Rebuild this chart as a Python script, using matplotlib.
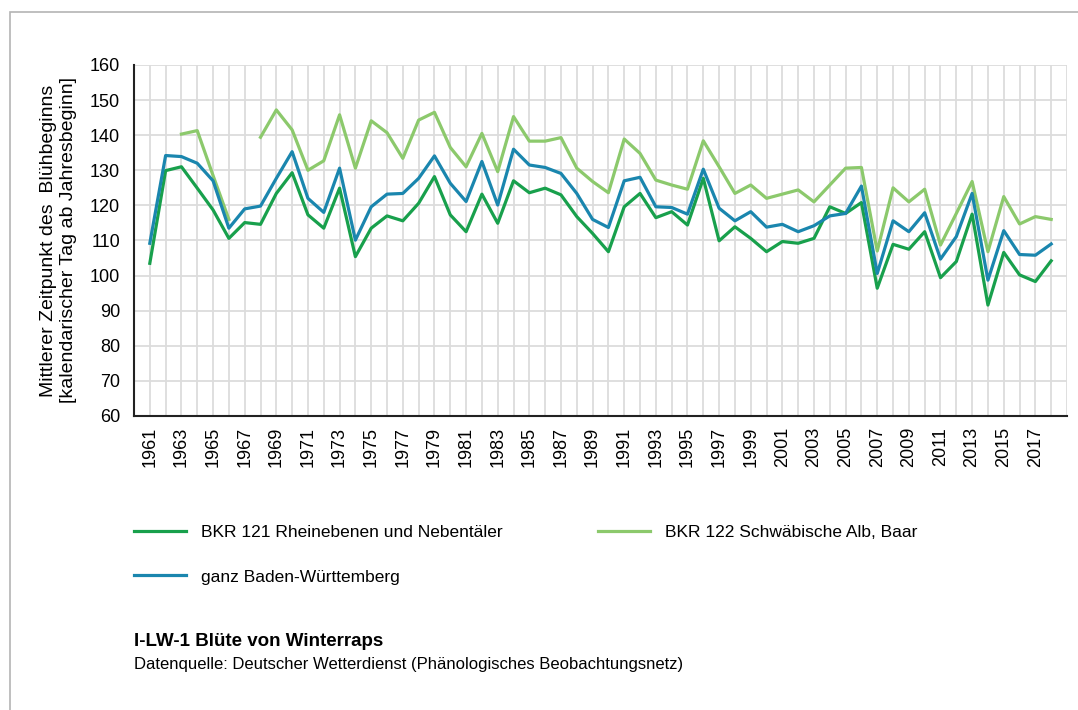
import numpy as np
import matplotlib
matplotlib.use("Agg")
import matplotlib.pyplot as plt
from matplotlib.patches import Rectangle

plt.rcParams['font.family'] = ['Liberation Sans', 'DejaVu Sans']

jahre = np.arange(1961, 2019)

# BKR 121 Rheinebenen und Nebentäler
bkr121 = [103.5, 129.9, 131.0, 124.9, 118.7, 110.6, 115.1, 114.6, 123.4, 129.3,
          117.3, 113.5, 124.9, 105.4, 113.5, 117.0, 115.6, 120.6, 128.2, 117.3,
          112.5, 123.2, 114.9, 127.0, 123.6, 124.9, 123.0, 116.8, 112.0, 106.8,
          119.6, 123.4, 116.5, 118.2, 114.4, 127.7, 109.9, 113.9, 110.6, 106.8,
          109.7, 109.2, 110.6, 119.6, 117.7, 120.8, 96.4, 108.9, 107.5, 112.5,
          99.4, 104.0, 117.5, 91.6, 106.6, 100.2, 98.3, 104.2]

# BKR 122 Schwäbische Alb, Baar (Lücken = keine Daten)
bkr122 = [np.nan, np.nan, 140.3, 141.3, 128.5, 116.0, np.nan, 139.4, 147.2, 141.5,
          130.0, 132.7, 145.8, 130.6, 144.1, 140.7, 133.4, 144.3, 146.5, 136.5,
          131.0, 140.5, 129.6, 145.3, 138.3, 138.3, 139.3, 130.6, 126.8, 123.6,
          138.9, 134.8, 127.2, 125.8, 124.6, 138.4, 131.0, 123.4, 125.8, 122.0,
          123.2, 124.4, 121.0, 125.8, 130.6, 130.8, 107.0, 125.0, 121.0, 124.6,
          108.7, 117.7, 126.8, 106.8, 122.5, 114.7, 116.8, 116.0]

# ganz Baden-Württemberg
bw = [109.2, 134.2, 133.9, 132.0, 127.0, 113.5, 119.0, 119.8, 127.7, 135.3,
      122.0, 118.0, 130.6, 110.1, 119.6, 123.2, 123.4, 127.7, 134.1, 126.3,
      121.1, 132.5, 120.1, 136.0, 131.5, 130.8, 129.1, 123.4, 116.0, 113.7,
      127.0, 128.0, 119.6, 119.4, 117.5, 130.3, 119.2, 115.6, 118.2, 113.8,
      114.6, 112.5, 114.2, 117.0, 117.7, 125.5, 100.6, 115.6, 112.5, 117.9,
      104.7, 111.1, 123.4, 98.7, 112.8, 106.0, 105.8, 109.0]

c121 = '#18a04c'
c122 = '#8cc96c'
cbw = '#1a86ae'

fig = plt.figure(figsize=(10.78, 7.10), dpi=100)
ax = fig.add_axes([0.1243, 0.4141, 0.8655, 0.4944])

# grauer Rahmen um die Grafik
fig.patches.append(Rectangle((10 / 1078, -0.05), 1.1, 1 - 12 / 710 + 0.05,
                             transform=fig.transFigure, fill=False,
                             edgecolor='#b4b4b4', linewidth=1.2))

l1, = ax.plot(jahre, bkr121, color=c121, lw=2.3, label='BKR 121 Rheinebenen und Nebentäler')
l2, = ax.plot(jahre, bkr122, color=c122, lw=2.3, label='BKR 122 Schwäbische Alb, Baar')
l3, = ax.plot(jahre, bw, color=cbw, lw=2.3, label='ganz Baden-Württemberg')

ax.set_xlim(1960, 2019)
ax.set_ylim(60, 160)
ax.set_yticks(np.arange(60, 161, 10))
ax.set_xticks(np.arange(1961, 2018, 2))
ax.set_xticks(np.arange(1960, 2020, 1), minor=True)
ax.tick_params(axis='x', which='major', rotation=90, length=0, pad=8, labelsize=13)
ax.tick_params(axis='x', which='minor', length=0)
ax.tick_params(axis='y', length=0, pad=10, labelsize=13)
ax.grid(True, which='both', color='#dcdcdc', lw=1.3)
ax.set_axisbelow(True)
for s in ['top', 'right']:
    ax.spines[s].set_visible(False)
for s in ['left', 'bottom']:
    ax.spines[s].set_linewidth(1.5)
    ax.spines[s].set_color('#222222')

ax.set_ylabel('Mittlerer Zeitpunkt des  Blühbeginns\n[kalendarischer Tag ab Jahresbeginn]',
              fontsize=14, labelpad=9, linespacing=1.25)

fig.legend(handles=[l1, l3, l2], loc='upper left', bbox_to_anchor=(0.110, 0.283),
           ncol=2, frameon=False, fontsize=12.5, handlelength=3.0,
           handletextpad=0.85, columnspacing=5.5, labelspacing=1.7)

fig.text(134 / 1078, 1 - 642 / 710, 'I-LW-1 Blüte von Winterraps', fontsize=13.5,
         fontweight='bold', va='center', ha='left')
fig.text(134 / 1078, 1 - 664 / 710,
         'Datenquelle: Deutscher Wetterdienst (Phänologisches Beobachtungsnetz)',
         fontsize=12, va='center', ha='left')

fig.savefig('out.png', dpi=100)
